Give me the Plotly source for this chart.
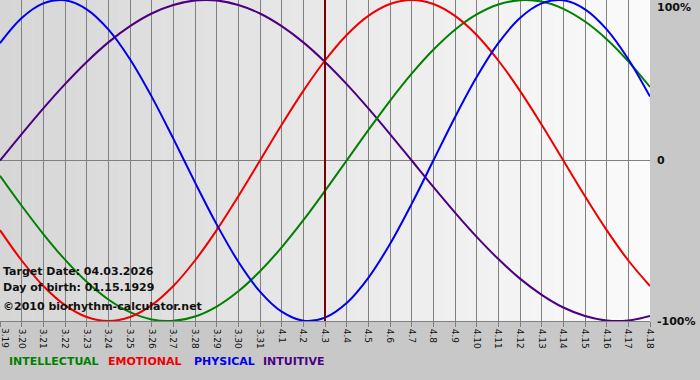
import plotly.graph_objects as go

# ---- data ----
dates = ["3.19", "3.20", "3.21", "3.22", "3.23", "3.24", "3.25", "3.26", "3.27", "3.28",
         "3.29", "3.30", "3.31", "4.1", "4.2", "4.3", "4.4", "4.5", "4.6", "4.7",
         "4.8", "4.9", "4.10", "4.11", "4.12", "4.13", "4.14", "4.15", "4.16", "4.17", "4.18"]

physical = [0.731, 0.888, 0.979, 0.998, 0.942, 0.817, 0.631, 0.398, 0.136, -0.136,
            -0.398, -0.631, -0.817, -0.942, -0.998, -0.979, -0.888, -0.731, -0.520, -0.270,
            0.000, 0.270, 0.520, 0.731, 0.888, 0.979, 0.998, 0.942, 0.817, 0.631, 0.398]

emotional = [-0.434, -0.623, -0.782, -0.901, -0.975, -1.000, -0.975, -0.901, -0.782, -0.623,
             -0.434, -0.223, 0.000, 0.223, 0.434, 0.623, 0.782, 0.901, 0.975, 1.000,
             0.975, 0.901, 0.782, 0.623, 0.434, 0.223, 0.000, -0.223, -0.434, -0.623, -0.782]

intellectual = [-0.095, -0.282, -0.458, -0.618, -0.756, -0.866, -0.945, -0.990, -0.999, -0.972,
                -0.910, -0.815, -0.690, -0.541, -0.372, -0.189, 0.000, 0.189, 0.372, 0.541,
                0.690, 0.815, 0.910, 0.972, 0.999, 0.990, 0.945, 0.866, 0.756, 0.618, 0.458]

intuitive = [0.000, 0.165, 0.325, 0.476, 0.614, 0.736, 0.837, 0.916, 0.969, 0.997,
             0.997, 0.969, 0.916, 0.837, 0.736, 0.614, 0.476, 0.325, 0.165, 0.000,
             -0.165, -0.325, -0.476, -0.614, -0.736, -0.837, -0.916, -0.969, -0.997, -0.997, -0.969]

target_date = "4.3"
y_tick_vals = [1, 0, -1]
y_tick_text = ["100%", "0", "-100%"]
info_lines = ["Target Date: 04.03.2026", "Day of birth: 01.15.1929", "\u00a92010 biorhythm-calculator.net"]
legend_names = ["INTELLECTUAL", "EMOTIONAL", "PHYSICAL", "INTUITIVE"]

# ---- styling ----
colors = {"INTELLECTUAL": "#008000", "EMOTIONAL": "#ee0000", "PHYSICAL": "#0000ee", "INTUITIVE": "#4b0082"}
FONT = "DejaVu Sans"
W, H = 700, 380
M_L, M_R, M_T, M_B = 0, 50, 0, 59
plot_h = H - M_T - M_B

x = list(range(len(dates)))
fig = go.Figure()

series = {"INTELLECTUAL": intellectual, "EMOTIONAL": emotional, "PHYSICAL": physical, "INTUITIVE": intuitive}
for name in ["INTUITIVE", "INTELLECTUAL", "EMOTIONAL", "PHYSICAL"]:
    fig.add_trace(go.Scatter(x=x, y=series[name], mode="lines", name=name,
                             line=dict(color=colors[name], width=2, shape="spline", smoothing=1.0),
                             showlegend=False, hoverinfo="skip"))

shapes = []
# horizontal gradient background of the plot area
n = 60
x0, x1 = 0, len(dates) - 1
c0, c1 = (214, 214, 214), (251, 251, 251)
for i in range(n):
    t = (i + 0.5) / n
    c = tuple(int(round(a + (b - a) * t)) for a, b in zip(c0, c1))
    shapes.append(dict(type="rect", xref="x", yref="paper",
                       x0=x0 + (x1 - x0) * i / n, x1=x0 + (x1 - x0) * (i + 1) / n + 0.01,
                       y0=0, y1=1, fillcolor="rgb(%d,%d,%d)" % c, line=dict(width=0), layer="below"))
# target date line
tx = dates.index(target_date)
shapes.append(dict(type="line", xref="x", yref="paper", x0=tx, x1=tx, y0=0, y1=1,
                   line=dict(color="#7a0000", width=2), layer="above"))

annotations = []
for i, (txt, ypx) in enumerate(zip(info_lines, [271, 287, 306])):
    annotations.append(dict(text="<b>%s</b>" % txt, xref="paper", yref="paper",
                            x=0, y=1 - ypx / plot_h, xanchor="left", yanchor="middle",
                            xshift=1, showarrow=False,
                            font=dict(family=FONT, size=11, color="#111111")))
for txt, v, in zip(y_tick_text, y_tick_vals):
    ypx = {1: 7, 0: 161, -1: 321}[v]
    annotations.append(dict(text="<b>%s</b>" % txt, xref="paper", yref="paper",
                            x=1, y=1 - ypx / plot_h, xanchor="left", yanchor="middle",
                            xshift=5, showarrow=False,
                            font=dict(family=FONT, size=11, color="#111111")))
for name, xpx in zip(legend_names, [7, 106, 192, 261]):
    annotations.append(dict(text="<b>%s</b>" % name, xref="paper", yref="paper",
                            x=0, y=0, xanchor="left", yanchor="middle",
                            xshift=xpx, yshift=-40, showarrow=False,
                            font=dict(family=FONT, size=11, color=colors[name])))
# first date label sits on the left edge (plotly drops it), draw it as rotated text
annotations.append(dict(text=dates[0], xref="x", yref="paper", x=0, y=0,
                        xanchor="center", yanchor="top", yshift=-5, xshift=5, textangle=90,
                        showarrow=False, font=dict(family=FONT, size=9, color="#111111")))

fig.update_layout(
    width=W, height=H,
    margin=dict(l=M_L, r=M_R, t=M_T, b=M_B, pad=0),
    paper_bgcolor="#c8c8c8", plot_bgcolor="#e8e8e8",
    shapes=shapes, annotations=annotations,
    xaxis=dict(range=[0, len(dates) - 1], tickmode="array", tickvals=x, ticktext=dates,
               tickangle=90, tickfont=dict(family=FONT, size=9, color="#111111"),
               showgrid=True, gridcolor="#808080", gridwidth=1,
               ticks="outside", ticklen=5, tickcolor="#808080",
               showline=True, linecolor="#808080", linewidth=1, zeroline=False, fixedrange=True),
    yaxis=dict(range=[-1, 1], showticklabels=False, showgrid=False,
               zeroline=True, zerolinecolor="#808080", zerolinewidth=1, fixedrange=True),
)

fig.write_html("out.html", config={"displayModeBar": False},
               post_script="document.body.style.margin='0';document.body.style.padding='0';")
